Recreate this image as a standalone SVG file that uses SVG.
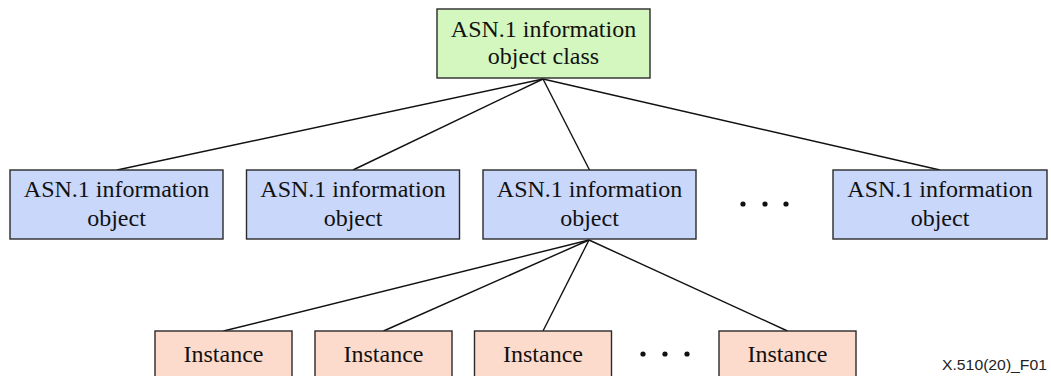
<svg xmlns="http://www.w3.org/2000/svg" width="1051" height="376" viewBox="0 0 1051 376">
<style>
.box{stroke:#2a2a2a;stroke-width:1.4}
.cls{fill:#d4f7c0}
.obj{fill:#c9d7fb}
.ins{fill:#fddbcc}
.t{font-family:"Liberation Serif","Times New Roman",serif;font-size:24px;fill:#111;text-anchor:middle}
.c line{stroke:#111;stroke-width:1.4}
.dot{fill:#111}
</style>
<rect width="1051" height="376" fill="#fff"/>
<g id="connectors" class="c">
<line x1="543" y1="79" x2="117" y2="170"/>
<line x1="543" y1="79" x2="353" y2="170"/>
<line x1="543" y1="79" x2="589.5" y2="170"/>
<line x1="543" y1="79" x2="940" y2="170"/>
<line x1="589" y1="240" x2="223.5" y2="331"/>
<line x1="589" y1="240" x2="383.5" y2="331"/>
<line x1="589" y1="240" x2="543" y2="331"/>
<line x1="589" y1="240" x2="787.5" y2="331"/>
</g>
<g id="class">
<rect class="box cls" x="437" y="9" width="213" height="69"/>
<text class="t" x="543.5" y="37">ASN.1 information</text>
<text class="t" x="543.5" y="64">object class</text>
</g>
<g id="obj1">
<rect class="box obj" x="10" y="170" width="213" height="69"/>
<text class="t" x="116.5" y="197">ASN.1 information</text>
<text class="t" x="116.5" y="226">object</text>
</g>
<g id="obj2">
<rect class="box obj" x="246.5" y="170" width="213" height="69"/>
<text class="t" x="353" y="197">ASN.1 information</text>
<text class="t" x="353" y="226">object</text>
</g>
<g id="obj3">
<rect class="box obj" x="483" y="170" width="213" height="69"/>
<text class="t" x="589.5" y="197">ASN.1 information</text>
<text class="t" x="589.5" y="226">object</text>
</g>
<g id="dots1">
<circle class="dot" cx="743" cy="204" r="2.6"/>
<circle class="dot" cx="765" cy="204" r="2.6"/>
<circle class="dot" cx="786" cy="204" r="2.6"/>
</g>
<g id="obj5">
<rect class="box obj" x="833" y="170" width="214" height="69"/>
<text class="t" x="940" y="197">ASN.1 information</text>
<text class="t" x="940" y="226">object</text>
</g>
<g id="inst1">
<rect class="box ins" x="155" y="331" width="137" height="50"/>
<text class="t" x="223.5" y="362">Instance</text>
</g>
<g id="inst2">
<rect class="box ins" x="315" y="331" width="137" height="50"/>
<text class="t" x="383.5" y="362">Instance</text>
</g>
<g id="inst3">
<rect class="box ins" x="474.5" y="331" width="137" height="50"/>
<text class="t" x="543" y="362">Instance</text>
</g>
<g id="dots2">
<circle class="dot" cx="643" cy="354" r="2.6"/>
<circle class="dot" cx="665" cy="354" r="2.6"/>
<circle class="dot" cx="687" cy="354" r="2.6"/>
</g>
<g id="inst4">
<rect class="box ins" x="719" y="331" width="137" height="50"/>
<text class="t" x="787.5" y="362">Instance</text>
</g>
<text x="942" y="370" font-family="Liberation Sans, Arial, sans-serif" font-size="14.5" fill="#222" textLength="105" lengthAdjust="spacingAndGlyphs">X.510(20)_F01</text>
</svg>
